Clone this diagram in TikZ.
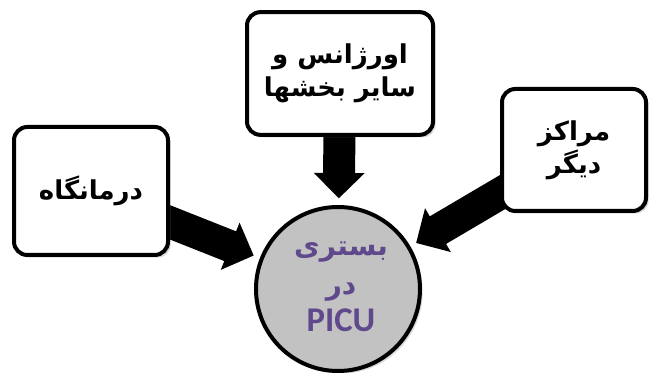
\documentclass[tikz,border=0pt]{standalone}
\usepackage{fontspec}
\usetikzlibrary{arrows.meta,shadows,backgrounds}
\newfontfamily\arabicfont[Script=Arabic]{DejaVu Sans}
\newfontfamily\latinfont{Carlito}
\TeXXeTstate=1
\definecolor{wardpurple}{RGB}{95,72,140}
\definecolor{wardgray}{RGB}{194,194,194}

\begin{document}
\begin{tikzpicture}[x=0.75pt,y=-0.75pt,
  source/.style={draw,line width=3pt,rounded corners=10pt,fill=white,align=center,
    font=\arabicfont\bfseries\fontsize{19.5}{25}\selectfont,
    drop shadow={opacity=0.3,shadow xshift=2pt,shadow yshift=-2pt}},
  flow/.style={line width=24pt,-{Triangle[width=37pt,length=19pt]},shorten >=5pt}]
  \useasboundingbox (0,0) rectangle (650,373);
  \node[source,minimum width=139.5pt,minimum height=92pt] (er) at (340,73.5)
    {\beginR اورژانس و\endR\\ \beginR سایر بخشها\endR};
  \node[source,minimum width=115.5pt,minimum height=96pt] (clinic) at (91,191)
    {\beginR درمانگاه\endR};
  \node[source,minimum width=108pt,minimum height=91.5pt] (other) at (574,150)
    {\beginR مراکز\endR\\ \beginR دیگر\endR};
  \node[circle,draw,line width=3pt,fill=wardgray,minimum size=123pt,
    drop shadow={opacity=0.3,shadow xshift=2pt,shadow yshift=-2pt}] (picu) at (338,289) {};
  \node[text=wardpurple,align=center,font=\arabicfont\bfseries\fontsize{21}{25}\selectfont] (label) at (341,287)
    {\beginR بستری\endR\\[4pt] \beginR در\endR\\[3pt] {\latinfont\bfseries\fontsize{26}{25}\selectfont PICU}};
  \begin{scope}[on background layer]
    \draw[flow] (er.center) -- (picu);
    \draw[flow] (clinic.center) -- (picu);
    \draw[flow] (other.center) -- (picu);
  \end{scope}
\end{tikzpicture}
\end{document}
